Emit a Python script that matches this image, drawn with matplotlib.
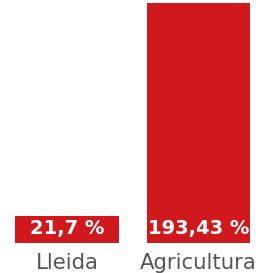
import matplotlib.pyplot as plt
import matplotlib.transforms as mtransforms

categories = ['Lleida', 'Agricultura']
values = [21.7, 193.43]
labels = ['21,7 %', '193,43 %']

fig = plt.figure(figsize=(2.71, 2.73), dpi=100)
ax = fig.add_axes([0, 30 / 273, 1, 240 / 273])

x = [0, 1]
ax.bar(x, values, width=0.79, color='#d0191c')
ax.set_xlim(-67 / 131.5, (271 - 67) / 131.5)
ax.set_ylim(0, max(values))

trans = mtransforms.blended_transform_factory(ax.transData, ax.transAxes)
for xi, lab in zip(x, labels):
    ax.text(xi, 0.06, lab, transform=trans, ha='center', va='center',
            color='white', fontsize=14, fontweight='bold', family='DejaVu Sans')

for xi, cat in zip(x, categories):
    ax.text(xi, -20 / 240, cat, transform=trans, ha='center', va='center',
            color='#555555', fontsize=15.3, family='DejaVu Sans')

ax.axis('off')
fig.savefig('out.png', dpi=100)
